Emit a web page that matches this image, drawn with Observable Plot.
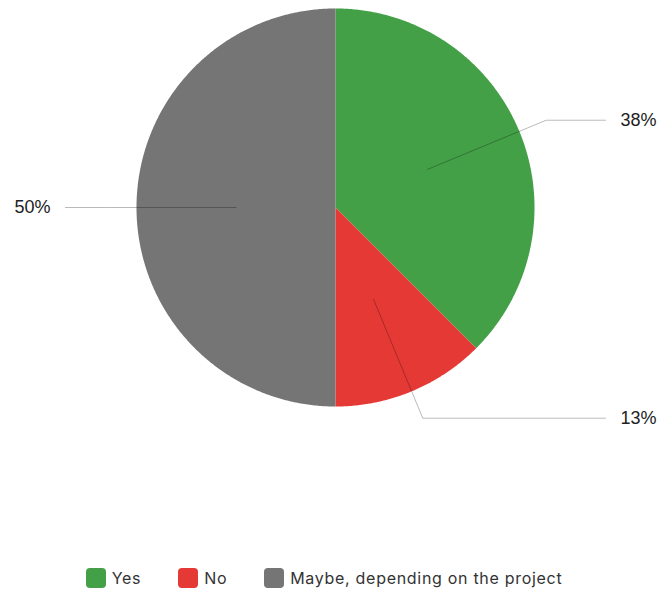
<!DOCTYPE html>
<html><head><meta charset="utf-8">
<script src="https://cdn.jsdelivr.net/npm/d3@7"></script>
<script src="https://cdn.jsdelivr.net/npm/@observablehq/plot@0.6"></script>
<style>
body{margin:0;background:#fff;}
#legend{display:flex;justify-content:center;align-items:center;height:24px;font-family:Inter,"Noto Sans",sans-serif;font-size:16px;letter-spacing:0.7px;color:#333;gap:37px;padding-right:10px}
#legend .item{display:flex;align-items:center}
#legend .sw{width:20px;height:20px;border-radius:4px;margin-right:6px}
</style>
</head><body><div id="chart"></div><div id="legend"></div><script>
const categories = ["Yes", "No", "Maybe, depending on the project"];
const values = [37.5, 12.5, 50];
const colors = ["#43a047", "#e53935", "#757575"];

const total = d3.sum(values);
let acc = 0;
const slices = categories.map((c, i) => {
  const a0 = acc / total * 2 * Math.PI;
  acc += values[i];
  const a1 = acc / total * 2 * Math.PI;
  return {category: c, value: values[i], a0, a1, mid: (a0 + a1) / 2, label: Math.round(values[i] / total * 100) + "%"};
});

// polygon vertices for each slice (unit circle, clockwise from top)
const poly = [];
slices.forEach(s => {
  poly.push({category: s.category, x: 0, y: 0});
  const n = Math.max(2, Math.ceil((s.a1 - s.a0) / (Math.PI / 360)));
  for (let k = 0; k <= n; k++) {
    const a = s.a0 + (s.a1 - s.a0) * k / n;
    poly.push({category: s.category, x: Math.sin(a), y: Math.cos(a)});
  }
  poly.push({category: s.category, x: 0, y: 0});
});

const rIn = 0.5, rElbow = 1.146, xEnd = 1.357, xLabel = 1.432;
const leaders = [];
slices.forEach(s => {
  const side = Math.sin(s.mid) >= 0 ? 1 : -1;
  leaders.push({category: s.category, x: rIn * Math.sin(s.mid), y: rIn * Math.cos(s.mid)});
  leaders.push({category: s.category, x: rElbow * Math.sin(s.mid), y: rElbow * Math.cos(s.mid)});
  leaders.push({category: s.category, x: side * xEnd, y: rElbow * Math.cos(s.mid)});
});
const texts = slices.map(s => {
  const side = Math.sin(s.mid) >= 0 ? 1 : -1;
  return {label: s.label, side, x: side * xLabel, y: rElbow * Math.cos(s.mid)};
});

const W = 658, H = 566, cx = 335, cy = 207, R = 199;
const chart = Plot.plot({
  width: W, height: H,
  margin: 0,
  x: {domain: [-cx / R, (W - cx) / R], axis: null},
  y: {domain: [-(H - cy) / R, cy / R], axis: null},
  color: {domain: categories, range: colors},
  style: {fontFamily: "'Liberation Sans', Arial, sans-serif", background: "#fff"},
  marks: [
    Plot.line(poly, {x: "x", y: "y", z: "category", fill: "category", stroke: "none", curve: "linear"}),
    Plot.line(leaders, {x: "x", y: "y", z: "category", stroke: "#000", strokeOpacity: 0.27, strokeWidth: 1}),
    Plot.text(texts.filter(d => d.side > 0), {x: "x", y: "y", text: "label", textAnchor: "start", fontSize: 18, fill: "#222"}),
    Plot.text(texts.filter(d => d.side < 0), {x: "x", y: "y", text: "label", textAnchor: "end", fontSize: 18, fill: "#222"})
  ]
});
document.getElementById("chart").appendChild(chart);

const legend = document.getElementById("legend");
categories.forEach((c, i) => {
  const item = document.createElement("div");
  item.className = "item";
  const sw = document.createElement("div");
  sw.className = "sw";
  sw.style.background = colors[i];
  const t = document.createElement("span");
  t.textContent = c;
  item.appendChild(sw); item.appendChild(t);
  legend.appendChild(item);
});
</script></body></html>
